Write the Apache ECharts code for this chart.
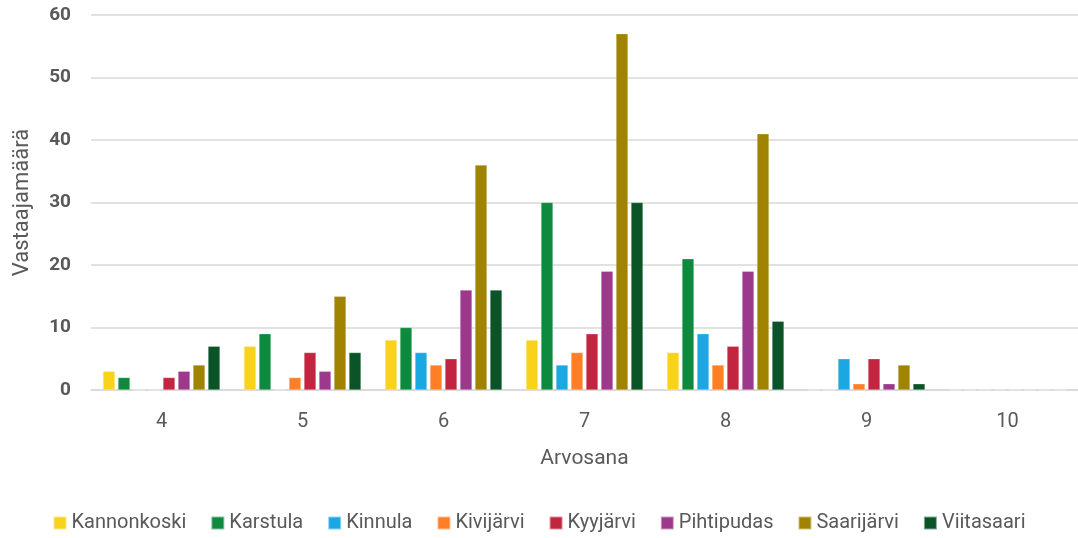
<!DOCTYPE html>
<html><head><meta charset="utf-8">
<script src="https://cdn.jsdelivr.net/npm/echarts@6/dist/echarts.min.js"></script>
<style>html,body{margin:0;padding:0;background:#fff}#c{width:1078px;height:538px}</style>
</head><body><div id="c"></div>
<script>
const categories = ['4','5','6','7','8','9','10'];
const seriesNames = ['Kannonkoski','Karstula','Kinnula','Kivijärvi','Kyyjärvi','Pihtipudas','Saarijärvi','Viitasaari'];
const kannonkoski = [3,7,8,8,6,0,0];
const karstula    = [2,9,10,30,21,0,0];
const kinnula     = [0,0,6,4,9,5,0];
const kivijarvi   = [0,2,4,6,4,1,0];
const kyyjarvi    = [2,6,5,9,7,5,0];
const pihtipudas  = [3,3,16,19,19,1,0];
const saarijarvi  = [4,15,36,57,41,4,0];
const viitasaari  = [7,6,16,30,11,1,0];
const values = [kannonkoski,karstula,kinnula,kivijarvi,kyyjarvi,pihtipudas,saarijarvi,viitasaari];
const colors = ['#F9D21C','#0E8A3E','#1BA8E2','#FF7F27','#C1253F','#9C398D','#A08300','#0A5427'];
const yTicks = [0,10,20,30,40,50,60];

const cond = "'Roboto', sans-serif";
const chart = echarts.init(document.getElementById('c'));
chart.setOption({
  animation:false,
  color: colors,
  grid:{left:91,right:-2,top:15,bottom:148,containLabel:false},
  legend:{bottom:0,left:'center',itemWidth:13,itemHeight:13,itemGap:24,icon:'rect',
    textStyle:{fontFamily:cond,fontSize:20,color:'#595959'},
    data:seriesNames},
  xAxis:{type:'category',data:categories,
    axisLine:{lineStyle:{color:'#D9D9D9',width:1.5}},axisTick:{show:false},
    axisLabel:{margin:22,fontFamily:"'Roboto', sans-serif",fontSize:20,color:'#595959'},
    name:'Arvosana',nameLocation:'middle',nameGap:58,
    nameTextStyle:{fontFamily:cond,fontSize:21,color:'#595959'}},
  yAxis:{type:'value',min:0,max:60,interval:10,
    axisLine:{show:false},axisTick:{show:false},
    splitLine:{lineStyle:{color:'#D9D9D9',width:1.5}},
    axisLabel:{margin:20,fontFamily:"'Roboto', sans-serif",fontWeight:'bold',fontSize:19,color:'#595959',
      formatter:v=>yTicks.includes(v)?String(v):''},
    name:'Vastaajamäärä',nameLocation:'middle',nameGap:58,
    nameTextStyle:{fontFamily:cond,fontSize:22,color:'#595959'}},
  series: seriesNames.map((n,i)=>({
    name:n,type:'bar',data:values[i],barGap:'25%',barCategoryGap:'17%',
    itemStyle:{color:colors[i],borderColor:'rgba(255,255,255,0.5)',borderWidth:0.5}
  }))
});
</script></body></html>
